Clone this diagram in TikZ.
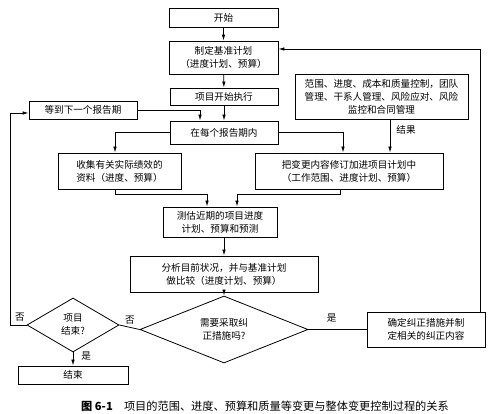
\documentclass[tikz,border=0pt]{standalone}
\usepackage{fontspec}
\setmainfont{Noto Sans CJK SC}
\usetikzlibrary{arrows.meta,shapes.geometric}
\tikzset{
  boite/.style={draw, line width=0.8pt, inner sep=0pt, align=center,
    font=\fontsize{9.6}{13}\selectfont},
  losange/.style={boite, diamond, aspect=2.5},
  fleche/.style={-{Latex[length=6pt,width=3.5pt]}, line width=0.8pt},
  trait/.style={line width=0.8pt},
  etiq/.style={font=\fontsize{9.6}{12}\selectfont, inner sep=0pt}
}
\begin{document}
\begin{tikzpicture}[x=1pt,y=-1pt]
            \useasboundingbox (0,0) rectangle (491,414);
            % boîtes de la colonne centrale
            \node[boite, minimum width=109pt, minimum height=19pt] (debut) at (223.5,17.5) {开始};
            \node[boite, minimum width=109pt, minimum height=33pt] (base) at (223.5,57.5) {制定基准计划\\（进度计划、预算）};
            \node[boite, minimum width=108pt, minimum height=17pt] (exec) at (224,96.5) {项目开始执行};
            \node[boite, minimum width=108pt, minimum height=23pt] (periode) at (224,132.5) {在每个报告期内};
            \node[boite, minimum width=114pt, minimum height=30pt] (estim) at (220,222) {测估近期的项目进度\\计划、预算和预测};
            \node[boite, minimum width=188pt, minimum height=36pt] (analyse) at (224,274) {分析目前状况，并与基准计划\\做比较（进度计划、预算）};
            \node[losange, minimum width=168pt, minimum height=67pt] (besoin) at (224,329.5) {需要采取纠\\正措施吗?};
            
            % boîtes latérales
            \node[boite, minimum width=108pt, minimum height=18pt] (attente) at (83,110) {等到下一个报告期};
            \node[boite, minimum width=173pt, minimum height=45pt] (controle) at (381.5,96.5) {范围、进度、成本和质量控制，团队\\管理、干系人管理、风险应对、风险\\监控和合同管理};
            \node[boite, minimum width=123pt, minimum height=36pt] (collecte) at (119.5,171) {收集有关实际绩效的\\资料（进度、预算）};
            \node[boite, minimum width=188pt, minimum height=36pt] (revision) at (349,171) {把变更内容修订加进项目计划中\\（工作范围、进度计划、预算）};
            \node[boite, minimum width=118pt, minimum height=35pt] (correct) at (426,329.5) {确定纠正措施并制\\定相关的纠正内容};
            \node[losange, minimum width=92pt, minimum height=54pt] (fini) at (73,325) {项目\\结束?};
            \node[boite, minimum width=110pt, minimum height=18pt] (fin) at (73,375) {结束};
            
            % flèches principales
            \draw[fleche] (debut) -- (base);
            \draw[fleche] (base) -- (exec);
            \draw[fleche] (exec) -- (periode);
            \draw[fleche] (attente.east) -| ([xshift=-24pt]periode.north);
            \draw[fleche] (periode.west) -| ([xshift=-4.5pt]collecte.north);
            \draw[fleche] (periode.east) -| ([xshift=-6pt]revision.north);
            \draw[fleche] ([xshift=8.5pt]controle.south) -- ([xshift=8.5pt]controle.south |- revision.north)
                node[etiq, pos=0.3, right=6pt] {结果};
            \draw[fleche] ([xshift=-4.5pt]collecte.south) -- ++(0,5) -| ([xshift=-13pt]estim.north);
            \draw[fleche] ([xshift=-9pt]revision.south) -- ++(0,5) -| ([xshift=17pt]estim.north);
            \draw[fleche] (estim.south -| analyse.north) -- (analyse.north);
            \draw[fleche] (analyse) -- (besoin);
            
            % décisions et retours
            \draw[trait] (besoin.east) -- (correct.west) node[etiq, pos=0.4, above=7pt] {是};
            \draw[fleche] ([xshift=54pt]correct.north) |- ([yshift=8.5pt]base.east);
            \draw[trait] (besoin.west) -- (fini.east);
            \node[etiq] (non1) at (130,320) {否};
            \draw[fleche] (fini.west) -- ++(-16,0) coordinate (coin) |- ([yshift=-3pt]attente.west);
            \node[etiq] (non2) at (20,317) {否};
            \draw[fleche] (fini.south) -- (fin.north) node[etiq, pos=0.3, right=8pt] {是};
            
            % légende
            \node[font=\fontsize{11.2}{13}\selectfont, inner sep=0pt] (legende) at (265,406) {\textbf{图 6-1}\quad 项目的范围、进度、预算和质量等变更与整体变更控制过程的关系};
\end{tikzpicture}
\end{document}
